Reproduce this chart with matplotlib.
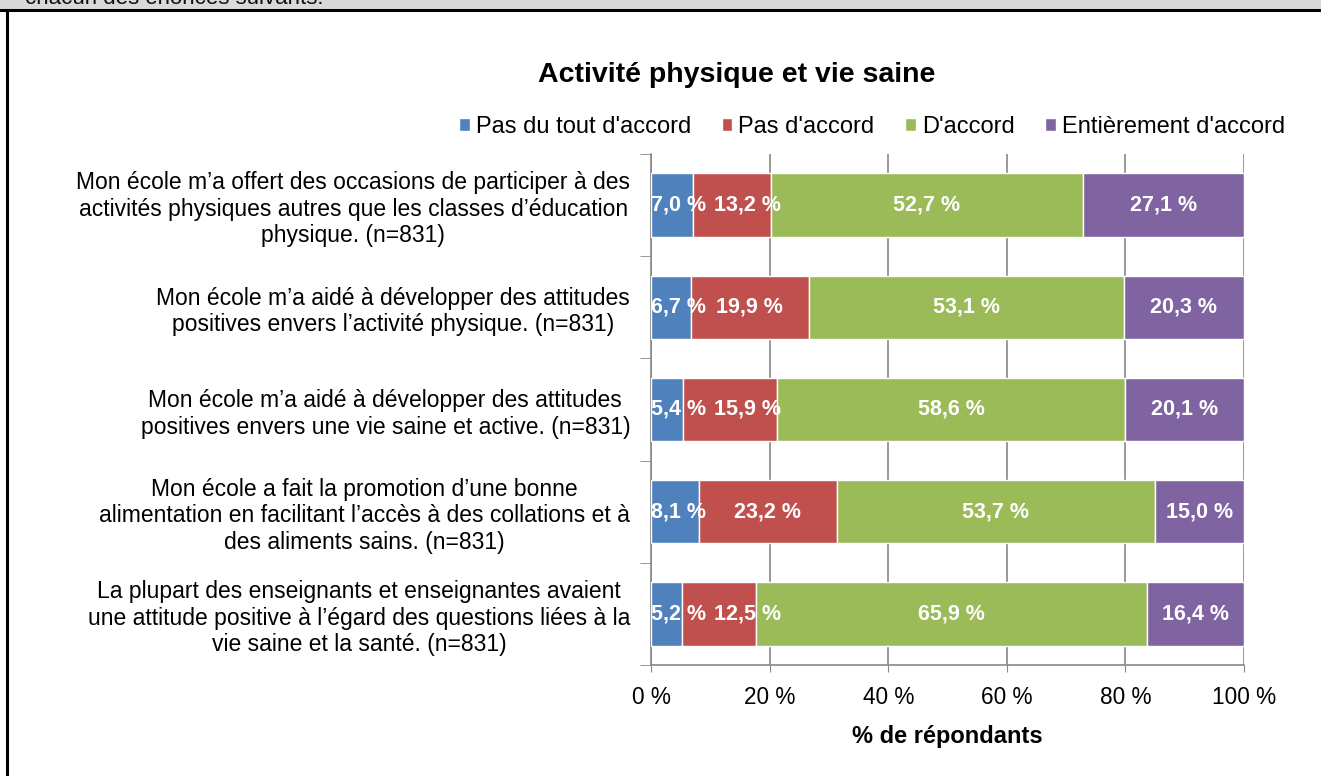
import numpy as np
import matplotlib.pyplot as plt
from matplotlib.patches import Rectangle
from matplotlib.lines import Line2D

plt.rcParams['font.family'] = ['Liberation Sans', 'DejaVu Sans']

questions = [
    "Mon école m’a offert des occasions de participer à des\nactivités physiques autres que les classes d’éducation\nphysique. (n=831)",
    "Mon école m’a aidé à développer des attitudes\npositives envers l’activité physique. (n=831)",
    "Mon école m’a aidé à développer des attitudes\npositives envers une vie saine et active. (n=831)",
    "Mon école a fait la promotion d’une bonne\nalimentation en facilitant l’accès à des collations et à\ndes aliments sains. (n=831)",
    "La plupart des enseignants et enseignantes avaient\nune attitude positive à l’égard des questions liées à la\nvie saine et la santé. (n=831)",
]
series_names = ["Pas du tout d'accord", "Pas d'accord", "D'accord", "Entièrement d'accord"]
pas_du_tout = [7.0, 6.7, 5.4, 8.1, 5.2]
pas_accord = [13.2, 19.9, 15.9, 23.2, 12.5]
accord = [52.7, 53.1, 58.6, 53.7, 65.9]
entierement = [27.1, 20.3, 20.1, 15.0, 16.4]
colors = ["#4f81bd", "#c0504d", "#9bbb59", "#8064a2"]

fig = plt.figure(figsize=(13.21, 7.76), dpi=100)

# header strip cut off at top of the page
fig.patches.append(Rectangle((0, 1 - 9 / 776), 1, 9 / 776, transform=fig.transFigure,
                             facecolor="#d9d9d9", edgecolor="none", zorder=0))
fig.text(25 / 1321, 1 - 4 / 776, "chacun des énoncés suivants.", fontsize=16,
         va="baseline", ha="left", color="#111111")
fig.lines.append(Line2D([0, 1], [1 - 10 / 776] * 2, transform=fig.transFigure, color="black", lw=2.2))
fig.lines.append(Line2D([6.5 / 1321] * 2, [0, 1 - 10 / 776], transform=fig.transFigure, color="black", lw=2.2))

ax = fig.add_axes([651 / 1321, 111 / 776, 593 / 1321, 511 / 776])

y = np.arange(len(questions))
left = np.zeros(len(questions))
row_labels = [[] for _ in y]
for vals, name, c in zip([pas_du_tout, pas_accord, accord, entierement], series_names, colors):
    vals = np.array(vals)
    ax.barh(y, vals, left=left, height=0.62, color=c, edgecolor="white", linewidth=1, label=name, zorder=3)
    for i, (yi, l, v) in enumerate(zip(y, left, vals)):
        t = ax.text(l + v / 2, yi, f"{v:.1f} %".replace(".", ","), ha="center", va="center",
                    color="white", fontweight="bold", fontsize=15.5, zorder=4)
        row_labels[i].append(t)
    left += vals

ax.set_xlim(0, 100)
ax.set_ylim(4.5, -0.5)
ax.set_xticks(np.arange(0, 101, 20))
ax.set_xticklabels([f"{v} %" for v in range(0, 101, 20)], fontsize=16.3)
ax.set_yticks(y)
ax.set_yticklabels(questions, fontsize=16.5, multialignment="center")
ax.set_yticks(np.arange(-0.5, 5, 1), minor=True)
ax.tick_params(axis="y", which="major", length=0, pad=15)
ax.tick_params(axis="y", which="minor", length=8, color="#888888", direction="out")
ax.tick_params(axis="x", length=5, color="#888888", direction="out", pad=10)
ax.grid(axis="x", color="#888888", lw=1.2, zorder=0)
for s in ["top", "right"]:
    ax.spines[s].set_visible(False)
for s in ["left", "bottom"]:
    ax.spines[s].set_color("#888888")
    ax.spines[s].set_linewidth(1.2)
ax.set_xlabel("% de répondants", fontsize=17, fontweight="bold", labelpad=12)

fig.text(737 / 1321, 1 - 75 / 776, "Activité physique et vie saine", ha="center", va="center",
         fontsize=20.5, fontweight="bold")
fig.legend(loc="center", bbox_to_anchor=(872 / 1321, 1 - 127 / 776), ncol=4, frameon=False,
           fontsize=17, handlelength=0.45, handleheight=0.45, handletextpad=0.25, columnspacing=1.3)

# keep labels inside the plot and push crowded ones right, like the original
fig.canvas.draw()
renderer = fig.canvas.get_renderer()
x0_px = ax.transData.transform((0, 0))[0]
inv = ax.transData.inverted()
for labels in row_labels:
    prev_right = x0_px - 8
    for t in labels:
        bb = t.get_window_extent(renderer)
        shift = max(0, prev_right + 8 - bb.x0)
        if shift > 0:
            cx = (bb.x0 + bb.x1) / 2 + shift
            ydisp = ax.transData.transform((0, t.get_position()[1]))[1]
            t.set_x(inv.transform((cx, ydisp))[0])
        prev_right = bb.x1 + shift

fig.savefig("out.png", dpi=100)
